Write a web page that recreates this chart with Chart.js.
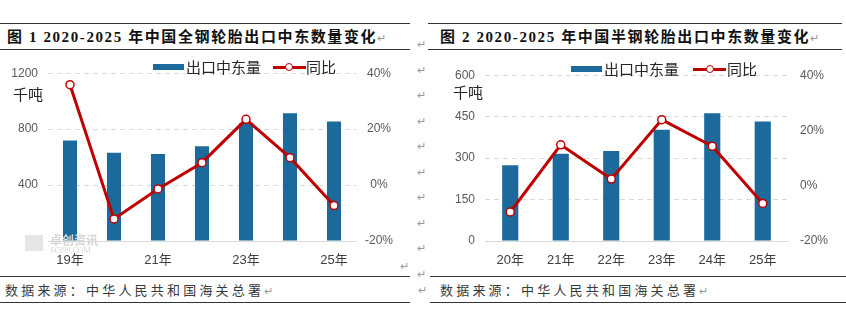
<!DOCTYPE html>
<html>
<head>
<meta charset="utf-8">
<script src="https://cdn.jsdelivr.net/npm/chart.js@4.4.0/dist/chart.umd.min.js"></script>
<style>
  body { margin: 0; background: #fff; width: 846px; height: 335px; position: relative; overflow: hidden;
         font-family: "Liberation Sans", "Noto Sans CJK SC", sans-serif; }
  .abs { position: absolute; }
  .rule { position: absolute; height: 0; border-top: 1.5px solid #333; }
  .title { position: absolute; font-family: "Liberation Serif", "Noto Sans CJK SC", serif; font-weight: bold;
           font-size: 15px; letter-spacing: 1.6px; color: #111; white-space: nowrap; line-height: 18px; }
  .foot { position: absolute; font-family: "Noto Sans CJK SC", sans-serif; font-size: 13px; letter-spacing: 3.2px;
          color: #3a3a3a; white-space: nowrap; line-height: 16px; }
  .mark { color: #999; font-size: 11px; letter-spacing: 0; font-weight: normal; }
  .unit { position: absolute; font-family: "Noto Sans CJK SC", sans-serif; font-size: 15px; color: #262626; line-height: 16px; }
  .leg { position: absolute; font-family: "Noto Sans CJK SC", sans-serif; font-size: 15px; color: #262626;
         white-space: nowrap; line-height: 16px; }
  .sw { position: absolute; background: #1b6a9b; width: 31px; height: 6px; }
  .ln { position: absolute; background: #c00000; width: 33px; height: 3px; }
  .dot { position: absolute; width: 6px; height: 6px; border: 1.5px solid #c00000; border-radius: 50%; background: #fff; }
  canvas { position: absolute; }
</style>
</head>
<body>

<!-- headers -->
<div class="rule" style="left:0;top:23px;width:410px"></div>
<div class="rule" style="left:0;top:49px;width:410px"></div>
<div class="title" style="left:7px;top:28px">图 1 2020-2025 年中国全钢轮胎出口中东数量变化<span class="mark">↵</span></div>
<div class="rule" style="left:428px;top:23px;width:414px"></div>
<div class="rule" style="left:428px;top:49px;width:414px"></div>
<div class="title" style="left:440px;top:28px">图 2 2020-2025 年中国半钢轮胎出口中东数量变化<span class="mark">↵</span></div>

<!-- footers -->
<div class="rule" style="left:0;top:276px;width:410px"></div>
<div class="rule" style="left:0;top:302px;width:410px"></div>
<div class="foot" style="left:5px;top:282px">数据来源：中华人民共和国海关总署<span class="mark">↵</span></div>
<div class="rule" style="left:430px;top:276px;width:416px"></div>
<div class="rule" style="left:430px;top:302px;width:416px"></div>
<div class="foot" style="left:440px;top:282px">数据来源：中华人民共和国海关总署<span class="mark">↵</span></div>

<!-- paragraph marks between the panels -->
<div class="abs mark" style="left:417px;top:32px;line-height:25.5px;font-size:11px">↵<br>↵<br>↵<br>↵<br>↵<br>↵<br>↵<br>↵<br>↵<br>↵</div>
<div class="abs mark" style="left:400px;top:260px">↵</div>
<div class="abs mark" style="left:418px;top:284px">↵</div>

<canvas id="c1" width="410" height="215" style="left:0;top:56px"></canvas>
<canvas id="c2" width="418" height="215" style="left:428px;top:56px"></canvas>

<!-- units and legends -->
<div class="unit" style="left:13px;top:86px">千吨</div>
<div class="unit" style="left:453px;top:84px">千吨</div>

<div class="sw" style="left:153px;top:64px"></div>
<div class="leg" style="left:186px;top:59px">出口中东量</div>
<div class="ln" style="left:273px;top:66px"></div>
<div class="dot" style="left:285px;top:63px"></div>
<div class="leg" style="left:306px;top:59px">同比</div>

<div class="sw" style="left:571px;top:66px"></div>
<div class="leg" style="left:604px;top:61px">出口中东量</div>
<div class="ln" style="left:693px;top:68px"></div>
<div class="dot" style="left:706px;top:65px"></div>
<div class="leg" style="left:727px;top:61px">同比</div>

<!-- watermark -->
<div class="abs" style="left:25px;top:235px;width:18px;height:16px;background:#e6e6e6"></div>
<div class="abs" style="left:50px;top:233px;font-family:'Noto Sans CJK SC';font-weight:bold;font-size:12px;color:#d6d6d6;line-height:13px">卓创资讯</div>
<div class="abs" style="left:50px;top:246px;font-family:'Liberation Serif';font-size:8px;color:#d6d6d6;line-height:9px">SCI99.COM</div>

<script>
// figure 1: all-steel tyres, figure 2: semi-steel tyres (exports to Middle East)
var years1 = ['19年', '20年', '21年', '22年', '23年', '24年', '25年'];
var volume1 = [719, 632, 623, 677, 842, 913, 855]; // 千吨
var yoy1 = [35.9, -12.1, -1.4, 8.0, 23.5, 9.8, -7.3]; // %

var years2 = ['20年', '21年', '22年', '23年', '24年', '25年'];
var volume2 = [274, 316, 326, 403, 462, 432];
var yoy2 = [-9.5, 14.8, 2.4, 23.9, 14.3, -6.4];

var leftMax1 = 1200, leftStep1 = 400;
var leftMax2 = 600, leftStep2 = 150;
var pctMin = -20, pctMax = 40, pctStep = 20;

var barColor = '#1b6a9b';
var lineColor = '#c00000';

Chart.defaults.font.family = "'Liberation Sans', 'Noto Sans CJK SC', sans-serif";
Chart.defaults.animation = false;

function makeChart(id, labels, bars, pct, leftMax, leftStep, sizes) {
	return new Chart(document.getElementById(id).getContext('2d'), {
		data: {
			labels: labels,
			datasets: [{
				type: 'line',
				label: '同比',
				data: pct,
				yAxisID: 'y1',
				borderColor: lineColor,
				borderWidth: 3,
				pointRadius: 4,
				pointBorderWidth: 1.5,
				pointBackgroundColor: '#fff',
				pointBorderColor: lineColor,
				tension: 0,
				order: 1
			},
			{
				type: 'bar',
				label: '出口中东量',
				data: bars,
				yAxisID: 'y',
				backgroundColor: barColor,
				barPercentage: 0.32,
				categoryPercentage: 1,
				order: 2
			}]
		},
		options: {
			responsive: false,
			layout: { padding: { top: 14, left: 0, right: 0, bottom: 0 } },
			plugins: { legend: { display: false }, tooltip: { enabled: false } },
			scales: {
				x: {
					grid: { color: 'transparent', drawTicks: false },
					border: { display: true, color: '#d9d9d9', width: 1 },
					ticks: {
						autoSkip: false,
						maxRotation: 0,
						padding: 12,
						color: '#404040',
						font: { size: 13 },
						callback: function (v, i) {
							return (i % sizes.every === 0) ? this.getLabelForValue(v) : '';
						}
					},
					afterFit: function (s) { s.height = 30; }
				},
				y: {
					position: 'left',
					min: 0,
					max: leftMax,
					ticks: {
						stepSize: leftStep,
						padding: 10,
						color: '#595959',
						font: { size: 12 },
						callback: function (v) { return String(v); }
					},
					grid: {
						drawTicks: false,
						color: function (c) { return c.tick && c.tick.value === 0 ? 'transparent' : '#d9d9d9'; }
					},
					border: { display: false, dash: [5, 4] },
					afterFit: function (s) { s.width = sizes.left; }
				},
				y1: {
					position: 'right',
					min: pctMin,
					max: pctMax,
					ticks: {
						stepSize: pctStep,
						padding: sizes.rpad,
						crossAlign: sizes.ralign,
						color: '#595959',
						font: { size: 12 },
						callback: function (v) { return v + '%'; }
					},
					grid: { display: false, drawTicks: false },
					border: { display: false },
					afterFit: function (s) { s.width = sizes.right; }
				}
			}
		}
	});
}

makeChart('c1', years1, volume1, yoy1, leftMax1, leftStep1, { left: 48, right: 54, rpad: 9, ralign: 'center', every: 2 });
makeChart('c2', years2, volume2, yoy2, leftMax2, leftStep2, { left: 57, right: 58, rpad: 12, ralign: 'near', every: 1 });
</script>
</body>
</html>
